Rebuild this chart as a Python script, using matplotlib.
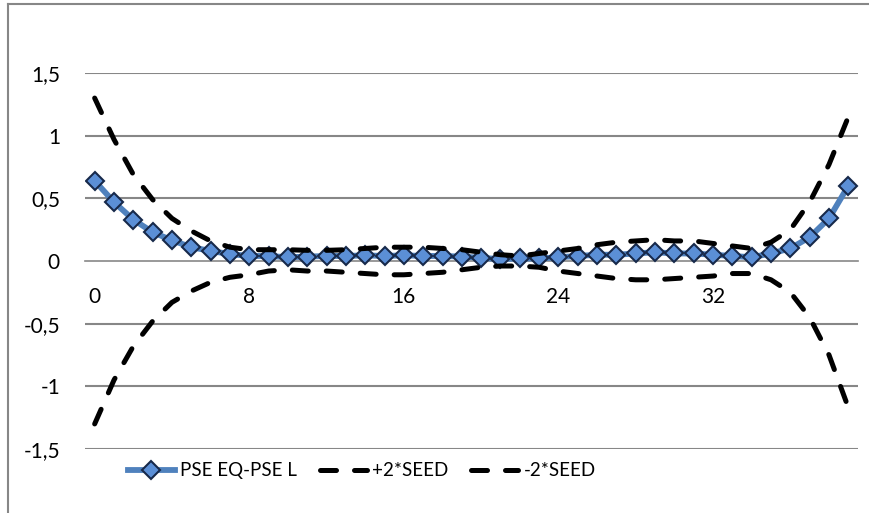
import matplotlib.pyplot as plt
from matplotlib.lines import Line2D
import numpy as np

# Data
x_values = list(range(40))
pse_diff = [0.64, 0.47, 0.33, 0.23, 0.165, 0.11, 0.08, 0.055, 0.04, 0.04,
            0.03, 0.035, 0.04, 0.04, 0.045, 0.04, 0.045, 0.04, 0.04, 0.035,
            0.025, 0.015, 0.02, 0.02, 0.03, 0.04, 0.05, 0.05, 0.06, 0.07,
            0.06, 0.06, 0.05, 0.04, 0.03, 0.06, 0.10, 0.19, 0.34, 0.60]
plus_seed = [1.30, 0.97, 0.69, 0.49, 0.34, 0.24, 0.16, 0.11, 0.09, 0.09,
             0.09, 0.085, 0.085, 0.09, 0.10, 0.11, 0.11, 0.11, 0.10, 0.09,
             0.07, 0.05, 0.04, 0.06, 0.08, 0.10, 0.13, 0.15, 0.16, 0.17,
             0.16, 0.16, 0.14, 0.12, 0.10, 0.15, 0.25, 0.47, 0.77, 1.15]
minus_seed = [-1.30, -0.95, -0.68, -0.48, -0.33, -0.24, -0.17, -0.13, -0.11, -0.08,
              -0.07, -0.08, -0.08, -0.09, -0.10, -0.11, -0.11, -0.10, -0.09, -0.07,
              -0.05, -0.04, -0.04, -0.05, -0.08, -0.10, -0.12, -0.14, -0.15, -0.15,
              -0.14, -0.13, -0.12, -0.10, -0.10, -0.15, -0.25, -0.45, -0.75, -1.17]
series_names = ['PSE EQ-PSE L', '+2*SEED', '-2*SEED']
y_ticks = [-1.5, -1, -0.5, 0, 0.5, 1, 1.5]
y_tick_labels = ['-1,5', '-1', '-0,5', '0', '0,5', '1', '1,5']
x_ticks = [0, 8, 16, 24, 32]

plt.rcParams['font.family'] = ['Lato', 'DejaVu Sans']

fig = plt.figure(figsize=(8.7, 5.13), dpi=100)
ax = fig.add_axes([85 / 870, 64 / 513, 773 / 870, 376 / 513])

grid_color = '#878787'

# Horizontal gridlines (the zero line is the category axis)
for y in y_ticks:
    if y != 0:
        ax.axhline(y, color=grid_color, linewidth=1.5, zorder=1)

# Main series
ax.plot(x_values, pse_diff, color='#4f81bd', linewidth=4.2, marker='D',
        markersize=9, markerfacecolor='#5b8fd6', markeredgecolor='#17294a',
        markeredgewidth=1.5, label=series_names[0], zorder=3)

# Dashed bands
for vals, name in [(plus_seed, series_names[1]), (minus_seed, series_names[2])]:
    ax.plot(x_values, vals, color='black', linewidth=3.6, dashes=(3.2, 3.6),
            dash_capstyle='round', label=name, zorder=4)

ax.set_xlim(-0.5, 39.5)
ax.set_ylim(-1.5, 1.5)

# Axis styling
for side in ['top', 'right', 'left']:
    ax.spines[side].set_visible(False)
ax.spines['bottom'].set_position(('data', 0))
ax.spines['bottom'].set_color(grid_color)
ax.spines['bottom'].set_linewidth(1.2)
ax.spines['bottom'].set_zorder(1)

ax.set_xticks(x_ticks)
ax.set_xticklabels([str(t) for t in x_ticks])
ax.set_yticks(y_ticks)
ax.set_yticklabels(y_tick_labels)
ax.tick_params(axis='x', length=0, pad=19, labelsize=15)
ax.tick_params(axis='y', length=0, pad=18, labelsize=15)

# Legend below the plot
leg = ax.legend(loc='upper center', bbox_to_anchor=(0.358, 0.01), ncol=3,
                frameon=False, fontsize=13.5, handlelength=2.5,
                columnspacing=1.2, handletextpad=0.3)

# Outer chart frame (clipped at right and bottom)
fig.add_artist(Line2D([8 / 870, 8 / 870], [0, 1 - 4 / 513], color=grid_color, linewidth=1.5))
fig.add_artist(Line2D([8 / 870, 1], [1 - 4 / 513, 1 - 4 / 513], color=grid_color, linewidth=1.5))

plt.savefig('out.png', dpi=100)
plt.close()
